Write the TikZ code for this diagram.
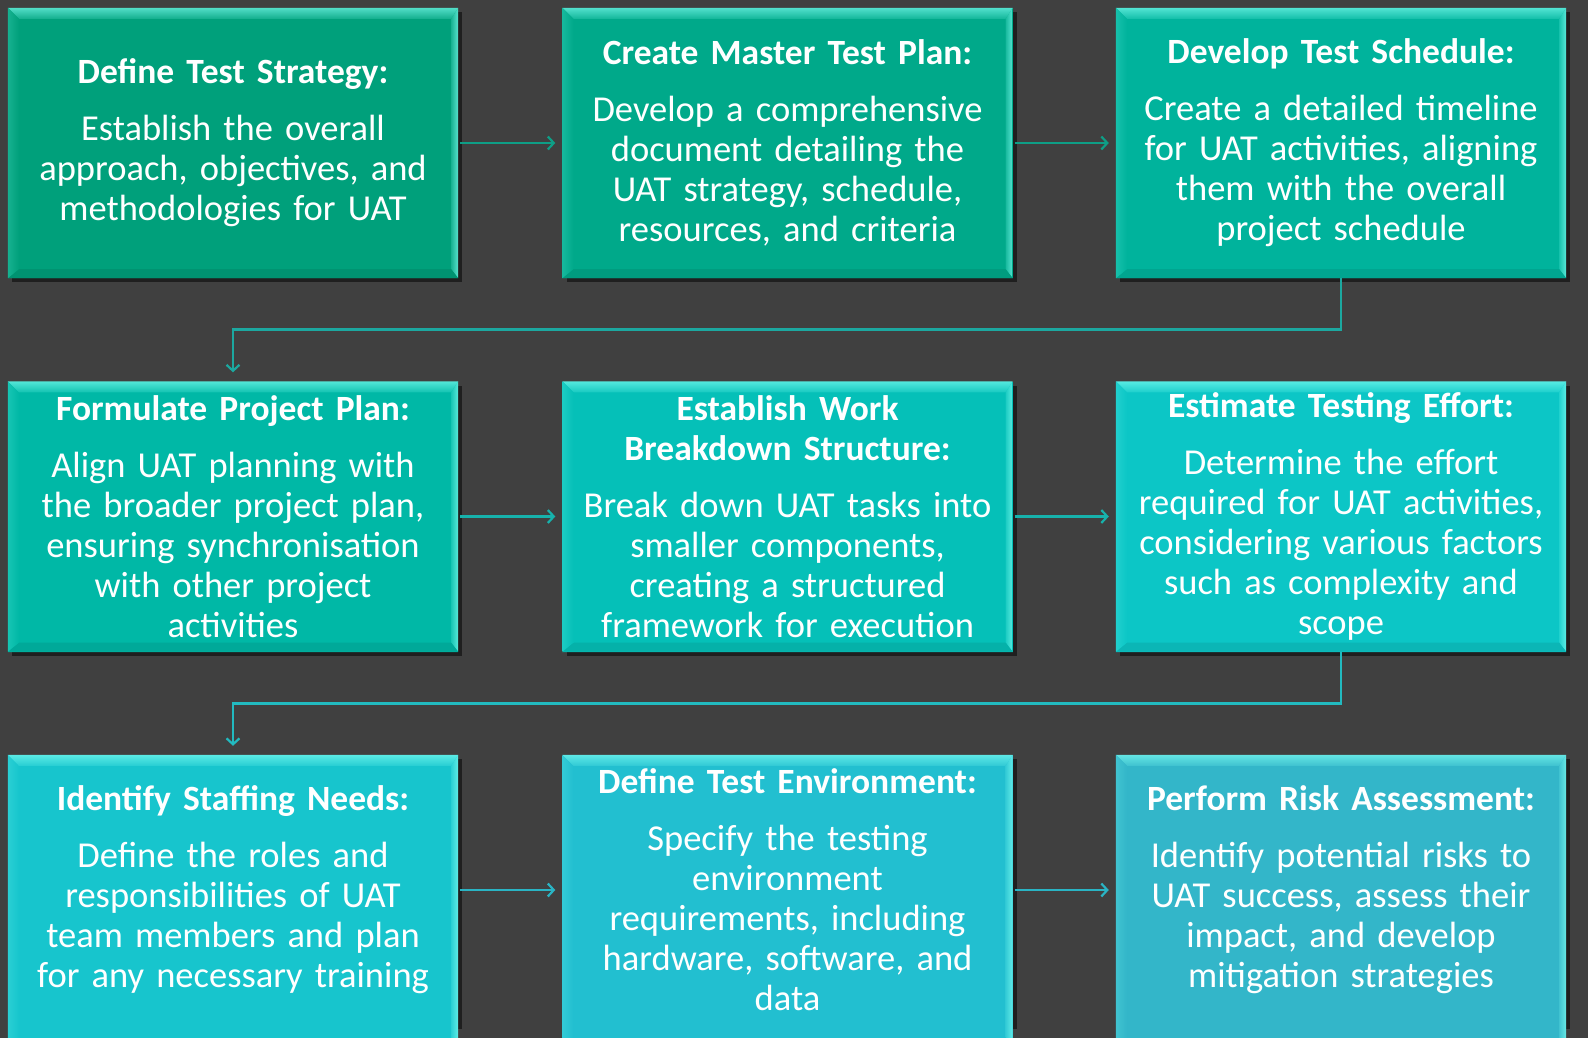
\documentclass[tikz,border=0pt]{standalone}
\usepackage{fontspec}
\setmainfont{Carlito}
\usetikzlibrary{calc,shadows,arrows.meta}
\definecolor{bg}{HTML}{404040}
\definecolor{bevhi}{HTML}{7FFFF2}
\definecolor{c1}{HTML}{00A07B}
\definecolor{c2}{HTML}{00A98A}
\definecolor{c3}{HTML}{00B39C}
\definecolor{c4}{HTML}{00B8A6}
\definecolor{c5}{HTML}{05C0B8}
\definecolor{c6}{HTML}{0CC6C6}
\definecolor{c7}{HTML}{17C5CD}
\definecolor{c8}{HTML}{22BFD0}
\definecolor{c9}{HTML}{33B6C9}
\definecolor{a1}{HTML}{0E9E86}
\definecolor{a2}{HTML}{17B2AC}
\definecolor{a3}{HTML}{2AB4C4}
\definecolor{k1}{HTML}{1CA8A0}
\definecolor{k2}{HTML}{22BAC0}
\newcommand{\tfont}{\bfseries\fontsize{35.5}{40}\selectfont}
\newcommand{\bfont}{\fontsize{36.5}{40}\selectfont}
\newcommand{\mybevel}[3]{%
  \fill[#2] (#1.south west) rectangle ($(#1.south east)+(0,#3)$);
  % top
  \shade[top color=#2!35!bevhi, bottom color=#2!85!bevhi] (#1.north west) -- (#1.north east) -- ($(#1.north east)+(-7,11)$) -- ($(#1.north west)+(11,11)$) -- cycle;
  % right
  \shade[left color=#2!80!bevhi, right color=#2!30!bevhi] (#1.north east) -- ($(#1.south east)+(0,#3)$) -- ($(#1.south east)+(-7,#3-9)$) -- ($(#1.north east)+(-7,11)$) -- cycle;
  % bottom
  \fill[#2!92!black] ($(#1.south west)+(0,#3)$) -- ($(#1.south east)+(0,#3)$) -- ($(#1.south east)+(-7,#3-9)$) -- ($(#1.south west)+(11,#3-9)$) -- cycle;
  % left
  \shade[left color=#2!82!bevhi, right color=#2] (#1.north west) -- ($(#1.north west)+(11,11)$) -- ($(#1.south west)+(11,#3-9)$) -- ($(#1.south west)+(0,#3)$) -- cycle;
}
\tikzset{
  card/.style={rectangle, fill=#1, minimum width=450pt, minimum height=270pt,
    inner sep=0pt,
    drop shadow={shadow xshift=4pt, shadow yshift=-4pt, opacity=0.5, fill=black}},
  lbl/.style={text width=440pt, align=center, text=white, inner sep=0pt, font=\bfont},
  arr/.style={line width=2.8pt, -{Straight Barb[length=6pt,width=13pt,line width=2.2pt]}},
}
\begin{document}
\begin{tikzpicture}[x=1pt,y=-1pt]
\fill[bg] (0,0) rectangle (1588,1038);
\useasboundingbox (0,0) rectangle (1588,1038);
\clip (0,0) rectangle (1588,1038);

\node[card=c1] (b1) at (233,143) {};
\node[card=c2] (b2) at (787.5,143) {};
\node[card=c3] (b3) at (1341,143) {};
\node[card=c4] (b4) at (233,516.5) {};
\node[card=c5] (b5) at (787.5,516.5) {};
\node[card=c6] (b6) at (1341,516.5) {};
\node[card=c7] (b7) at (233,890) {};
\node[card=c8] (b8) at (787.5,890) {};
\node[card=c9] (b9) at (1341,890) {};

\mybevel{b1}{c1}{0}
\mybevel{b2}{c2}{0}
\mybevel{b3}{c3}{0}
\mybevel{b4}{c4}{0}
\mybevel{b5}{c5}{0}
\mybevel{b6}{c6}{0}
\mybevel{b7}{c7}{25}
\mybevel{b8}{c8}{25}
\mybevel{b9}{c9}{25}

\node[lbl] (t1) at (b1) {{\tfont Define Test Strategy:}\\[17pt]Establish the overall\\approach, objectives, and\\methodologies for UAT};
\node[lbl] (t2) at (b2) {{\tfont Create Master Test Plan:}\\[17pt]Develop a comprehensive\\document detailing the\\UAT strategy, schedule,\\resources, and criteria};
\node[lbl] (t3) at (b3) {{\tfont Develop Test Schedule:}\\[17pt]Create a detailed timeline\\for UAT activities, aligning\\them with the overall\\project schedule};
\node[lbl] (t4) at (b4) {{\tfont Formulate Project Plan:}\\[17pt]Align UAT planning with\\the broader project plan,\\ensuring synchronisation\\with other project\\activities};
\node[lbl] (t5) at (b5) {{\tfont Establish Work\\Breakdown Structure:}\\[17pt]Break down UAT tasks into\\smaller components,\\creating a structured\\framework for execution};
\node[lbl] (t6) at (b6) {{\tfont Estimate Testing Effort:}\\[17pt]Determine the effort\\required for UAT activities,\\considering various factors\\such as complexity and\\scope};
\node[lbl] (t7) at (b7) {{\tfont Identify Staffing Needs:}\\[17pt]Define the roles and\\responsibilities of UAT\\team members and plan\\for any necessary training};
\node[lbl] (t8) at (b8) {{\tfont Define Test Environment:}\\[17pt]Specify the testing\\environment\\requirements, including\\hardware, software, and\\data};
\node[lbl] (t9) at (b9) {{\tfont Perform Risk Assessment:}\\[17pt]Identify potential risks to\\UAT success, assess their\\impact, and develop\\mitigation strategies};

\draw[arr, a1, shorten <=2pt, shorten >=7pt] (b1.east) -- (b2.west);
\draw[arr, a1, shorten <=2pt, shorten >=7pt] (b2.east) -- (b3.west);
\draw[arr, a2, shorten <=2pt, shorten >=7pt] (b4.east) -- (b5.west);
\draw[arr, a2, shorten <=2pt, shorten >=7pt] (b5.east) -- (b6.west);
\draw[arr, a3, shorten <=2pt, shorten >=7pt] (b7.east) -- (b8.west);
\draw[arr, a3, shorten <=2pt, shorten >=7pt] (b8.east) -- (b9.west);
\draw[arr, k1, shorten >=9pt] (b3.south) -- ++(0,51) -| (b4.north);
\draw[arr, k2, shorten >=9pt] (b6.south) -- ++(0,52) -| (b7.north);
\end{tikzpicture}
\end{document}
